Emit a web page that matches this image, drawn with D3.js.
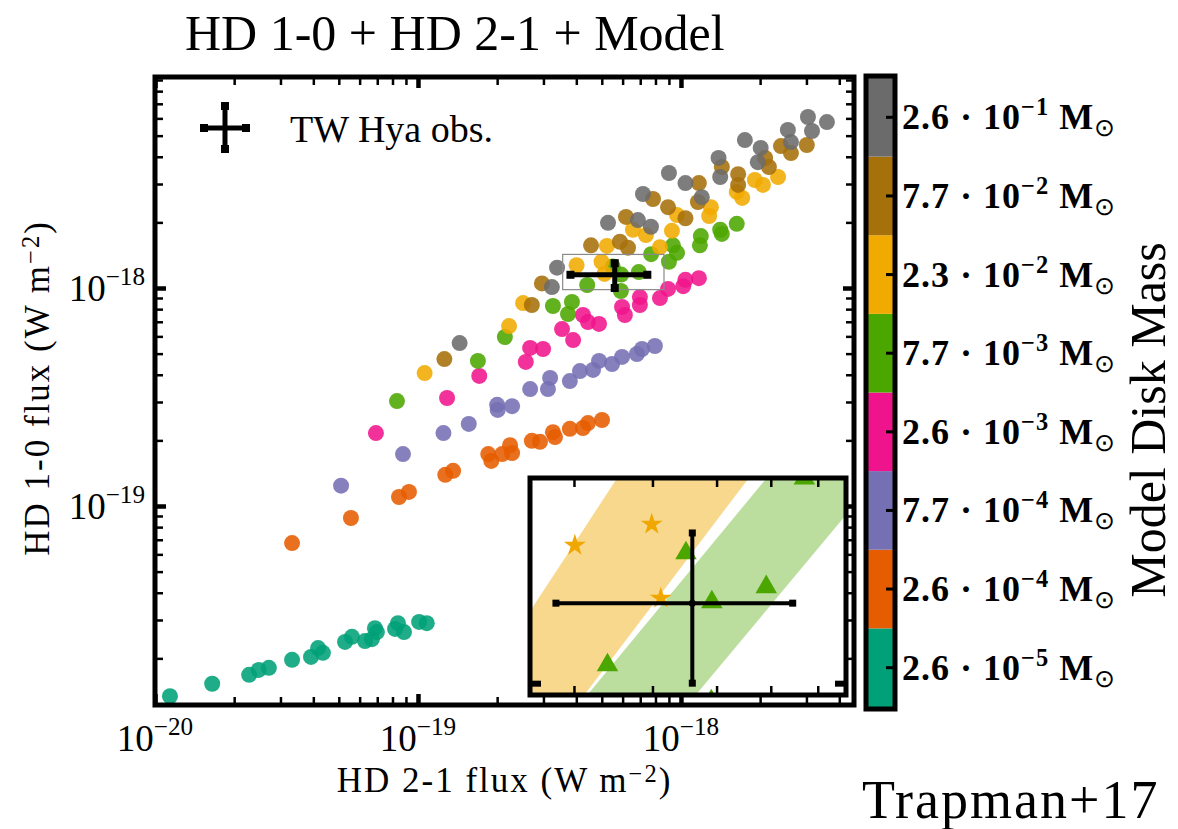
<!DOCTYPE html>
<meta charset="utf-8">

<head>
    <style>
        body {
            margin: 0;
            background: #fff;
        }

        text {
            font-family: 'Liberation Serif', 'Times New Roman', serif;
            fill: #000;
        }

        .tick-label {
            font-size: 37px;
        }

        .axis-title {
            font-size: 35px;
            letter-spacing: 2px;
        }

        .cb-label {
            font-size: 36px;
            font-weight: 700;
            letter-spacing: 1px;
        }

        .big-label {
            font-size: 50px;
        }
    </style>
</head>

<script src="https://d3js.org/d3.v7.min.js"></script>

<div id="chart"></div>

<script>

    // disk masses of the model grid, lowest first (colour bar from bottom to top)
    const massMantissa = ["2.6", "2.6", "7.7", "2.6", "7.7", "2.3", "7.7", "2.6"];
    const massExponent = ["−5", "−4", "−4", "−3", "−3", "−2", "−2", "−1"];
    const massColors = ["#00a078", "#e65c00", "#7570b3", "#f0148c", "#4ca600", "#f0aa00", "#a6700a", "#6b6b6b"];

    // model fluxes, HD 2-1 (x) and HD 1-0 (y), in W m^-2
    const hd21_26e5 = [1.14e-20, 1.65e-20, 2.28e-20, 2.48e-20, 2.71e-20, 3.32e-20, 3.92e-20, 4.17e-20, 4.35e-20, 5.28e-20, 5.61e-20, 6.29e-20, 6.68e-20, 6.86e-20, 6.98e-20, 8.18e-20, 8.39e-20, 8.85e-20, 1.01e-19, 1.08e-19];
    const hd10_26e5 = [1.34e-20, 1.53e-20, 1.68e-20, 1.77e-20, 1.81e-20, 1.97e-20, 2.03e-20, 2.23e-20, 2.12e-20, 2.38e-20, 2.51e-20, 2.40e-20, 2.45e-20, 2.75e-20, 2.64e-20, 2.73e-20, 2.90e-20, 2.64e-20, 2.94e-20, 2.90e-20];

    const hd21_26e4 = [3.32e-20, 5.56e-20, 8.47e-20, 9.24e-20, 1.27e-19, 1.36e-19, 1.85e-19, 1.90e-19, 2.09e-19, 2.24e-19, 2.28e-19, 2.71e-19, 2.91e-19, 3.26e-19, 3.32e-19, 3.78e-19, 4.24e-19, 4.43e-19, 5.01e-19];
    const hd10_26e4 = [6.76e-20, 8.81e-20, 1.10e-19, 1.16e-19, 1.39e-19, 1.45e-19, 1.73e-19, 1.61e-19, 1.73e-19, 1.90e-19, 1.75e-19, 1.99e-19, 1.97e-19, 2.18e-19, 2.07e-19, 2.26e-19, 2.28e-19, 2.40e-19, 2.48e-19];

    const hd21_77e4 = [5.10e-20, 8.77e-20, 1.25e-19, 1.56e-19, 2.00e-19, 2.01e-19, 2.28e-19, 2.67e-19, 3.12e-19, 3.18e-19, 3.78e-19, 4.13e-19, 4.63e-19, 4.88e-19, 5.47e-19, 5.97e-19, 6.80e-19, 7.11e-19, 7.96e-19];
    const hd10_77e4 = [1.24e-19, 1.73e-19, 2.16e-19, 2.38e-19, 2.91e-19, 2.76e-19, 2.87e-19, 3.44e-19, 3.44e-19, 3.87e-19, 3.74e-19, 4.16e-19, 4.21e-19, 4.63e-19, 4.48e-19, 4.83e-19, 4.98e-19, 5.25e-19, 5.42e-19];

    const hd21_26e3 = [6.92e-20, 1.29e-19, 1.71e-19, 2.57e-19, 2.67e-19, 2.99e-19, 3.53e-19, 3.89e-19, 4.24e-19, 4.43e-19, 4.88e-19, 5.97e-19, 6.12e-19, 6.98e-19, 6.98e-19, 8.32e-19, 8.93e-19, 1.02e-18, 1.04e-18, 1.17e-18];
    const hd10_26e3 = [2.16e-19, 3.13e-19, 3.95e-19, 4.58e-19, 5.31e-19, 5.25e-19, 6.48e-19, 5.77e-19, 7.52e-19, 6.98e-19, 6.84e-19, 8.18e-19, 7.52e-19, 9.09e-19, 8.36e-19, 8.99e-19, 9.90e-19, 1.02e-18, 1.09e-18, 1.11e-18];

    const hd21_77e3 = [8.32e-20, 1.69e-19, 2.14e-19, 3.26e-19, 3.72e-19, 3.85e-19, 4.40e-19, 5.50e-19, 5.91e-19, 5.92e-19, 6.91e-19, 7.70e-19, 9.00e-19, 9.32e-19, 9.66e-19, 1.18e-18, 1.19e-18, 1.41e-18, 1.43e-18, 1.63e-18];
    const hd10_77e3 = [3.03e-19, 4.63e-19, 5.96e-19, 8.27e-19, 7.60e-19, 8.63e-19, 1.032e-18, 1.255e-18, 9.69e-19, 1.152e-18, 1.183e-18, 1.43e-18, 1.32e-18, 1.57e-18, 1.45e-18, 1.57e-18, 1.73e-18, 1.85e-18, 1.77e-18, 1.97e-18];

    const hd21_23e2 = [1.06e-19, 2.22e-19, 2.51e-19, 4.01e-19, 4.99e-19, 5.12e-19, 5.23e-19, 6.57e-19, 7.36e-19, 8.32e-19, 9.24e-19, 9.66e-19, 1.28e-18, 1.30e-18, 1.63e-18, 1.71e-18, 1.91e-18, 2.05e-18, 2.34e-18];
    const hd10_23e2 = [4.07e-19, 6.69e-19, 8.53e-19, 1.272e-18, 1.320e-18, 1.160e-18, 1.56e-18, 1.85e-18, 1.75e-18, 1.54e-18, 1.83e-18, 2.16e-18, 2.14e-18, 2.35e-18, 2.76e-18, 2.59e-18, 3.13e-18, 2.97e-18, 3.23e-18];

    const hd21_77e2 = [1.26e-19, 2.71e-19, 2.96e-19, 4.55e-19, 5.86e-19, 6.29e-19, 6.18e-19, 7.83e-19, 8.93e-19, 1.04e-18, 1.16e-18, 1.17e-18, 1.43e-18, 1.65e-18, 1.65e-18, 2.09e-18, 2.16e-18, 2.40e-18, 2.62e-18, 3.01e-18];
    const hd10_77e2 = [4.72e-19, 8.36e-19, 1.05e-18, 1.57e-18, 1.63e-18, 1.53e-18, 2.12e-18, 2.56e-18, 2.35e-18, 2.09e-18, 2.48e-18, 3.03e-18, 3.59e-18, 3.33e-18, 2.97e-18, 3.95e-18, 3.59e-18, 4.48e-18, 4.16e-18, 4.53e-18];

    const hd21_26e1 = [1.44e-19, 3.23e-19, 3.38e-19, 5.28e-19, 6.86e-19, 7.17e-19, 7.69e-19, 9.00e-19, 1.04e-18, 1.20e-18, 1.39e-18, 1.41e-18, 1.75e-18, 1.96e-18, 2.01e-18, 2.55e-18, 2.62e-18, 3.04e-18, 3.15e-18, 3.59e-18];
    const hd10_26e1 = [5.59e-19, 1.01e-18, 1.24e-18, 1.99e-18, 2.05e-18, 2.70e-18, 1.91e-18, 3.37e-18, 3.03e-18, 2.61e-18, 3.95e-18, 3.23e-18, 4.77e-18, 3.78e-18, 4.39e-18, 5.31e-18, 4.67e-18, 6.09e-18, 5.25e-18, 5.77e-18];

    // TW Hya observation: [low, value, high]
    const obsHD21 = [3.8e-19, 5.6e-19, 7.45e-19];
    const obsHD10 = [1.0e-18, 1.15e-18, 1.30e-18];

    // shaded bands in the zoom panel (corner points, flux units)
    const bandYellowHD21 = [2.99e-19, 4.59e-19, 6.69e-19, 4.07e-19];
    const bandYellowHD10 = [9.70e-19, 1.451e-18, 1.451e-18, 9.70e-19];
    const bandGreenHD21 = [4.10e-19, 7.05e-19, 9.64e-19, 5.58e-19];
    const bandGreenHD10 = [9.70e-19, 1.451e-18, 1.451e-18, 9.70e-19];

    // axis limits
    const xLimits = [1e-20, 4.55e-18];
    const yLimits = [1.222e-20, 9.29e-18];
    const insetXLimits = [3.55e-19, 8.62e-19];
    const insetYLimits = [0.983e-18, 1.426e-18];

    const series = [
        [hd21_26e5, hd10_26e5], [hd21_26e4, hd10_26e4], [hd21_77e4, hd10_77e4], [hd21_26e3, hd10_26e3],
        [hd21_77e3, hd10_77e3], [hd21_23e2, hd10_23e2], [hd21_77e2, hd10_77e2], [hd21_26e1, hd10_26e1]
    ].map(function (s, i) {
        return s[0].map(function (v, j) { return { x: v, y: s[1][j], c: massColors[i], k: i }; });
    });

    const width = 1178, height = 829;
    const plot = { left: 155, right: 854, top: 77, bottom: 705 };
    const inset = { left: 532, right: 844, top: 480, bottom: 693 };
    const cbar = { left: 868, right: 893, top: 78, bottom: 707 };

    const svg = d3.select("#chart").append("svg")
        .attr("width", width)
        .attr("height", height);

    const x = d3.scaleLog().domain(xLimits).range([plot.left, plot.right]);
    const y = d3.scaleLog().domain(yLimits).range([plot.bottom, plot.top]);

    function logTicks(domain) {
        const major = [], minor = [];
        for (let e = Math.floor(Math.log10(domain[0])); e <= Math.ceil(Math.log10(domain[1])); e++) {
            for (let k = 1; k <= 9; k++) {
                const v = k * Math.pow(10, e);
                if (v < domain[0] * 0.999 || v > domain[1] * 1.001) continue;
                (k === 1 ? major : minor).push(v);
            }
        }
        return { major: major, minor: minor };
    }

    // inward ticks on one side of a frame
    function sideTicks(scale, side, pos, values, len, w) {
        const axis = { bottom: d3.axisBottom, top: d3.axisTop, left: d3.axisLeft, right: d3.axisRight }[side](scale);
        const tr = (side === "bottom" || side === "top") ? "translate(0," + pos + ")" : "translate(" + pos + ",0)";
        svg.append("g")
            .attr("transform", tr)
            .call(axis.tickValues(values).tickSize(-len).tickFormat(""))
            .call(g => g.select(".domain").remove())
            .selectAll("line")
            .attr("stroke", "#000")
            .attr("stroke-width", w);
    }

    function powerLabel(sel, v) {
        sel.append("tspan").text("10");
        sel.append("tspan")
            .attr("dy", -16)
            .attr("font-size", "0.68em")
            .text("−" + Math.round(-Math.log10(v)));
    }

    // ---- model points
    svg.append("clipPath").attr("id", "clip-main")
        .append("rect")
        .attr("x", plot.left).attr("y", plot.top)
        .attr("width", plot.right - plot.left).attr("height", plot.bottom - plot.top);

    svg.append("g")
        .attr("clip-path", "url(#clip-main)")
        .selectAll("g")
        .data(series)
        .enter()
        .append("g")
        .selectAll("circle")
        .data(d => d)
        .enter()
        .append("circle")
        .attr("cx", d => x(d.x))
        .attr("cy", d => y(d.y))
        .attr("r", 8)
        .attr("fill", d => d.c)
        .attr("fill-opacity", 0.88);

    // zoom box
    svg.append("rect")
        .attr("x", x(insetXLimits[0]))
        .attr("y", y(insetYLimits[1]))
        .attr("width", x(insetXLimits[1]) - x(insetXLimits[0]))
        .attr("height", y(insetYLimits[0]) - y(insetYLimits[1]))
        .attr("fill", "none")
        .attr("stroke", "#8a8a8a")
        .attr("stroke-width", 1.2);

    // error cross
    function errorCross(g, xs, ys, xv, yv, lw, cap) {
        g.append("line")
            .attr("x1", xs(xv[0])).attr("x2", xs(xv[2]))
            .attr("y1", ys(yv[1])).attr("y2", ys(yv[1]))
            .attr("stroke", "#000").attr("stroke-width", lw);
        g.append("line")
            .attr("x1", xs(xv[1])).attr("x2", xs(xv[1]))
            .attr("y1", ys(yv[0])).attr("y2", ys(yv[2]))
            .attr("stroke", "#000").attr("stroke-width", lw);
        const caps = [[xv[0], yv[1]], [xv[2], yv[1]], [xv[1], yv[0]], [xv[1], yv[2]]];
        g.selectAll(".cap")
            .data(caps)
            .enter()
            .append("rect")
            .attr("x", d => xs(d[0]) - cap / 2)
            .attr("y", d => ys(d[1]) - cap / 2)
            .attr("width", cap)
            .attr("height", cap)
            .attr("fill", "#000");
    }

    errorCross(svg.append("g"), x, y, obsHD21, obsHD10, 5, 8);

    // ---- frame ticks and labels
    const xt = logTicks(xLimits), yt = logTicks(yLimits);
    sideTicks(x, "bottom", plot.bottom, xt.minor, 8, 2.5);
    sideTicks(x, "top", plot.top, xt.minor, 8, 2.5);
    sideTicks(x, "bottom", plot.bottom, xt.major, 11, 4.5);
    sideTicks(x, "top", plot.top, xt.major, 11, 4.5);
    sideTicks(y, "left", plot.left, yt.minor, 8, 2.5);
    sideTicks(y, "right", plot.right, yt.minor, 8, 2.5);
    sideTicks(y, "left", plot.left, yt.major, 11, 4.5);
    sideTicks(y, "right", plot.right, yt.major, 11, 4.5);

    svg.append("rect")
        .attr("x", plot.left).attr("y", plot.top)
        .attr("width", plot.right - plot.left).attr("height", plot.bottom - plot.top)
        .attr("fill", "none").attr("stroke", "#000").attr("stroke-width", 5);

    xt.major.forEach(function (v) {
        svg.append("text")
            .attr("class", "tick-label")
            .attr("x", x(v))
            .attr("y", plot.bottom + 46)
            .attr("text-anchor", "middle")
            .call(powerLabel, v);
    });
    yt.major.forEach(function (v) {
        svg.append("text")
            .attr("class", "tick-label")
            .attr("x", 145)
            .attr("y", y(v) + 13)
            .attr("text-anchor", "end")
            .call(powerLabel, v);
    });

    function fluxTitle(sel, label) {
        sel.append("tspan").text(label + " flux (W m");
        sel.append("tspan").attr("dy", -10).attr("font-size", "0.7em").text("−2");
        sel.append("tspan").attr("dy", 10).text(")");
    }

    svg.append("text")
        .attr("class", "axis-title")
        .attr("x", (plot.left + plot.right) / 2)
        .attr("y", 792)
        .attr("text-anchor", "middle")
        .call(fluxTitle, "HD 2-1");

    svg.append("text")
        .attr("class", "axis-title")
        .attr("transform", "translate(49," + 388 + ") rotate(-90)")
        .attr("text-anchor", "middle")
        .call(fluxTitle, "HD 1-0");

    // ---- legend
    const leg = svg.append("g");
    leg.append("line").attr("x1", 204).attr("x2", 246).attr("y1", 128).attr("y2", 128)
        .attr("stroke", "#000").attr("stroke-width", 5);
    leg.append("line").attr("x1", 225).attr("x2", 225).attr("y1", 106).attr("y2", 149)
        .attr("stroke", "#000").attr("stroke-width", 5);
    [[204, 128], [246, 128], [225, 106], [225, 149]].forEach(function (p) {
        leg.append("rect").attr("x", p[0] - 4).attr("y", p[1] - 4).attr("width", 8).attr("height", 8);
    });
    leg.append("text")
        .attr("x", 290)
        .attr("y", 142)
        .style("font-size", "38px")
        .text("TW Hya obs.");

    // ---- inset
    const xi = d3.scaleLog().domain(insetXLimits).range([inset.left, inset.right]);
    const yi = d3.scaleLog().domain(insetYLimits).range([inset.bottom, inset.top]);

    svg.append("clipPath").attr("id", "clip-inset")
        .append("rect")
        .attr("x", inset.left).attr("y", inset.top)
        .attr("width", inset.right - inset.left).attr("height", inset.bottom - inset.top);

    svg.append("rect")
        .attr("x", inset.left).attr("y", inset.top)
        .attr("width", inset.right - inset.left).attr("height", inset.bottom - inset.top)
        .attr("fill", "#fff");

    const ig = svg.append("g").attr("clip-path", "url(#clip-inset)");

    const band = d3.line().x(d => xi(d[0])).y(d => yi(d[1]));
    ig.append("path")
        .attr("d", band(d3.zip(bandYellowHD21, bandYellowHD10)) + "Z")
        .attr("fill", "#f0a800").attr("fill-opacity", 0.45);
    ig.append("path")
        .attr("d", band(d3.zip(bandGreenHD21, bandGreenHD10)) + "Z")
        .attr("fill", "#4ca600").attr("fill-opacity", 0.38);

    const insetSymbol = { 4: d3.symbol(d3.symbolTriangle, 200), 5: d3.symbol(d3.symbolStar, 150) };
    ig.selectAll(".mk")
        .data(series.flat().filter(d => insetSymbol[d.k]))
        .enter()
        .append("path")
        .attr("transform", d => "translate(" + xi(d.x) + "," + yi(d.y) + ")")
        .attr("d", d => insetSymbol[d.k]())
        .attr("fill", d => d.k === 5 ? "#f0a800" : "#4ca600");

    errorCross(ig, xi, yi, obsHD21, obsHD10, 4, 7);
    ig.append("circle").attr("cx", xi(obsHD21[1])).attr("cy", yi(obsHD10[1])).attr("r", 3.5);

    const xit = logTicks(insetXLimits), yit = logTicks(insetYLimits);
    sideTicks(xi, "bottom", inset.bottom, xit.minor, 7, 2.5);
    sideTicks(xi, "top", inset.top, xit.minor, 7, 2.5);
    sideTicks(yi, "left", inset.left, yit.major, 9, 6);
    sideTicks(yi, "right", inset.right, yit.major, 9, 6);

    svg.append("rect")
        .attr("x", inset.left - 2).attr("y", inset.top - 2)
        .attr("width", inset.right - inset.left + 4).attr("height", inset.bottom - inset.top + 4)
        .attr("fill", "none").attr("stroke", "#000").attr("stroke-width", 5);

    // ---- colour bar (lowest mass at the bottom)
    const cb = d3.scaleBand()
        .domain(d3.range(massColors.length))
        .range([cbar.bottom, cbar.top]);

    svg.append("g")
        .selectAll("rect")
        .data(massColors)
        .enter()
        .append("rect")
        .attr("x", cbar.left)
        .attr("y", (d, i) => cb(i))
        .attr("width", cbar.right - cbar.left)
        .attr("height", cb.bandwidth())
        .attr("fill", d => d);

    massColors.forEach(function (c, i) {
        const yc = cb(i) + cb.bandwidth() / 2;
        svg.append("line")
            .attr("x1", cbar.right - 7).attr("x2", cbar.right)
            .attr("y1", yc).attr("y2", yc)
            .attr("stroke", "#000").attr("stroke-width", 3);
        const t = svg.append("text")
            .attr("class", "cb-label")
            .attr("x", cbar.right + 9)
            .attr("y", yc + 12);
        t.append("tspan").text(massMantissa[i] + " · 10");
        t.append("tspan").attr("dy", -14).attr("font-size", "0.68em").text(massExponent[i]);
        t.append("tspan").attr("dy", 14).text(" M");
        t.append("tspan").attr("dy", 7).attr("font-size", "0.7em").style("font-weight", 400).text("⊙");
    });

    svg.append("rect")
        .attr("x", cbar.left - 2).attr("y", cbar.top - 2)
        .attr("width", cbar.right - cbar.left + 4).attr("height", cbar.bottom - cbar.top + 4)
        .attr("fill", "none").attr("stroke", "#000").attr("stroke-width", 5);

    svg.append("text")
        .attr("class", "big-label")
        .attr("transform", "translate(1165,420) rotate(-90)")
        .attr("text-anchor", "middle")
        .text("Model Disk Mass");

    // ---- titles
    svg.append("text")
        .attr("class", "big-label")
        .attr("x", 185)
        .attr("y", 50)
        .text("HD 1-0 + HD 2-1 + Model");

    svg.append("text")
        .attr("class", "big-label")
        .attr("x", 862)
        .attr("y", 818)
        .style("font-size", "54px")
        .style("letter-spacing", "2px")
        .text("Trapman+17");
</script>
